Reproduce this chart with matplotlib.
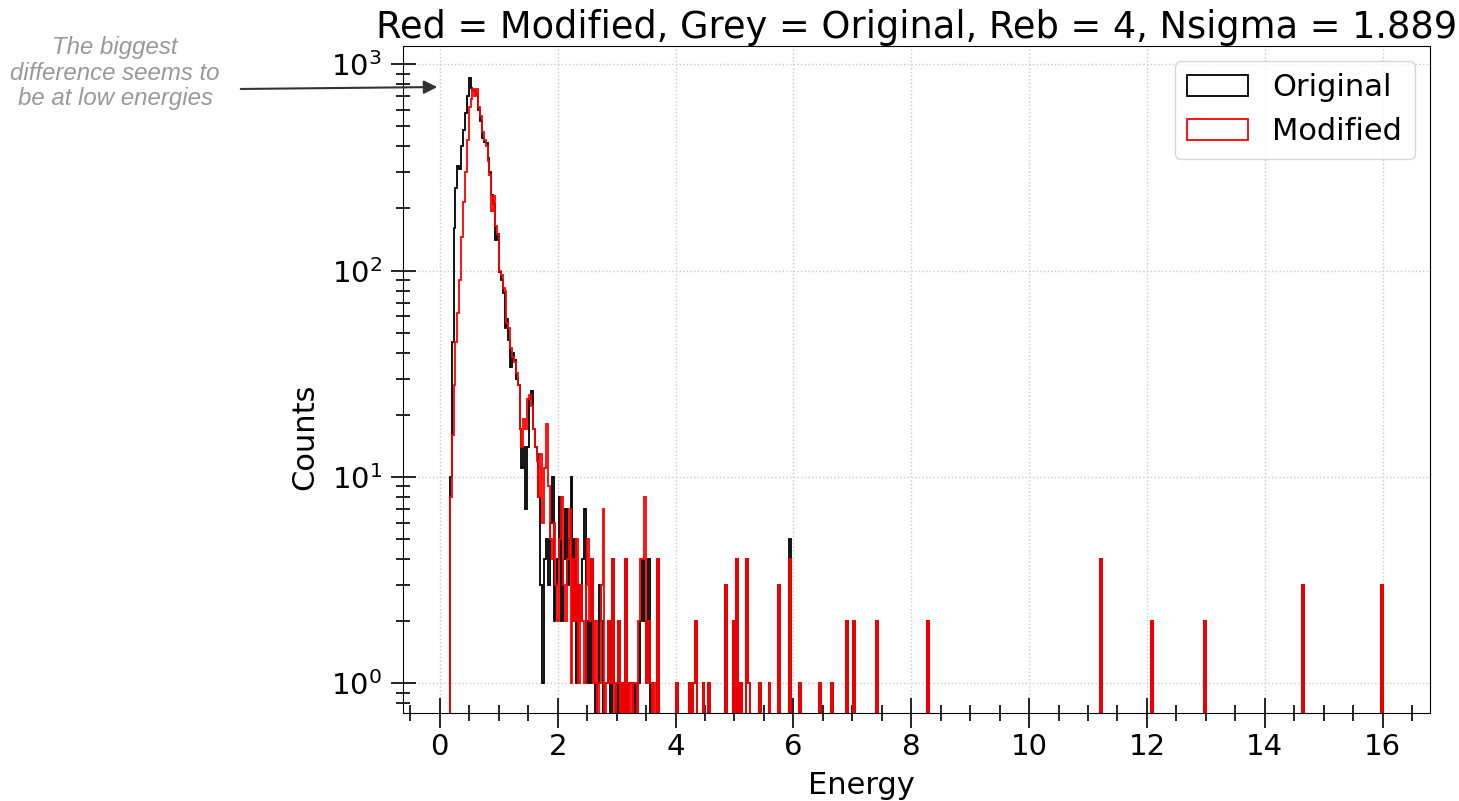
import numpy as np
import matplotlib.pyplot as plt
from matplotlib.ticker import MultipleLocator, LogLocator

# binning (rebinned histogram, Reb = 4)
bin_start = 0.17
bin_width = 0.032
n_bins = 495

# dense part of the spectrum, counts per bin starting at bin_start
original_dense = [10, 45, 160, 250, 320, 310, 400, 480, 580, 700,
                  860, 770, 750, 740, 720, 600, 530, 440, 420, 415,
                  350, 300, 232, 210, 140, 150, 98, 90, 78, 53,
                  58, 46, 34, 40, 37, 30, 28, 17, 11, 14,
                  7, 14, 24, 26, 17, 14, 13, 8, 3, 1,
                  4, 5, 3, 6, 10, 2, 3, 4, 8, 2,
                  4, 7, 3, 5, 10, 2, 5, 1, 3, 2,
                  4, 7, 1, 2, 1, 4, 1, 0, 1, 3,
                  2, 0, 1, 1, 2, 0, 4, 1, 0, 2,
                  0, 1, 0, 4, 0, 1, 1, 0, 1, 0,
                  1, 2, 4, 2, 1, 4, 0, 1, 0, 0,
                  4, 0]
modified_dense = [8, 16, 28, 45, 62, 90, 145, 215, 300, 430,
                  620, 680, 760, 700, 760, 620, 560, 470, 430, 400,
                  340, 290, 195, 230, 165, 150, 100, 95, 82, 80,
                  56, 53, 42, 38, 36, 32, 28, 17, 14, 19,
                  17, 24, 25, 22, 17, 14, 12, 8, 13, 6,
                  11, 18, 9, 5, 4, 6, 3, 2, 5, 8,
                  3, 2, 4, 7, 1, 4, 2, 5, 1, 3,
                  2, 1, 3, 5, 2, 4, 1, 2, 0, 1,
                  3, 7, 0, 1, 2, 1, 4, 0, 1, 2,
                  0, 1, 0, 4, 0, 1, 0, 1, 1, 0,
                  2, 4, 4, 8, 1, 2, 1, 0, 1, 0,
                  4, 0]

# sparse high energy tail
tail_energy = [4.02, 4.24, 4.32, 4.36, 4.47, 4.58, 4.87, 4.97, 5.06, 5.12,
               5.20, 5.24, 5.43, 5.60, 5.77, 5.94, 6.10, 6.46, 6.65, 6.90,
               7.04, 7.41, 8.28, 11.21, 12.10, 13.00, 14.65, 16.00]
tail_original = [1, 1, 1, 2, 1, 1, 3, 2, 4, 1,
                 4, 1, 1, 1, 3, 5, 1, 1, 1, 2,
                 2, 2, 2, 4, 2, 2, 3, 3]
tail_modified = [1, 1, 1, 2, 1, 1, 3, 2, 4, 1,
                 4, 1, 1, 1, 3, 4, 1, 1, 1, 2,
                 2, 2, 2, 4, 2, 2, 3, 3]

edges = bin_start + bin_width * np.arange(n_bins + 1)


def spectrum(dense, tail):
    centers = edges[:len(dense)] + bin_width / 2
    x = np.concatenate([centers, tail_energy])
    w = np.concatenate([dense, tail])
    return x, w


fig = plt.figure(figsize=(14.59, 8.01), dpi=100)
ax = fig.add_axes([0.276, 0.110, 0.704, 0.833])

x, w = spectrum(original_dense, tail_original)
ax.hist(x, bins=edges, weights=w, histtype="step", color="black", lw=1.3, label="Original")
x, w = spectrum(modified_dense, tail_modified)
ax.hist(x, bins=edges, weights=w, histtype="step", color="red", lw=1.3, label="Modified")

ax.set_yscale("log")
ax.set_xlim(-0.63, 16.8)
ax.set_ylim(0.72, 1230)

ax.xaxis.set_major_locator(MultipleLocator(2))
ax.xaxis.set_minor_locator(MultipleLocator(0.5))
ax.yaxis.set_minor_locator(LogLocator(subs=np.arange(2, 10)))
ax.tick_params(axis="x", which="major", direction="inout", length=21, width=1.2, labelsize=21, pad=4)
ax.tick_params(axis="x", which="minor", direction="inout", length=11, width=1.2)
ax.tick_params(axis="y", which="major", direction="inout", length=18, width=1.2, labelsize=21, pad=6)
ax.tick_params(axis="y", which="minor", direction="inout", length=9.5, width=1.2)

ax.grid(True, which="major", linestyle=":", color="#c8c8c8", lw=1)
ax.set_xlabel("Energy", fontsize=22)
ax.set_ylabel("Counts", fontsize=22)
ax.xaxis.set_label_coords(0.447, -0.087)
ax.yaxis.set_label_coords(-0.081, 0.414)
ax.set_title("Red = Modified, Grey = Original, Reb = 4, Nsigma = 1.889", fontsize=26.5, pad=5)
ax.legend(loc="upper right", fontsize=22)

# note on the left
fig.text(115, 801 - 73, "The biggest\ndifference seems to\nbe at low energies",
         transform=None, ha="center", va="center", fontsize=17.3, style="italic",
         color="#999999", family="Liberation Sans", linespacing=1.15)
ax.annotate("", xy=(440, 801 - 87), xycoords="figure pixels",
            xytext=(238, 801 - 89), textcoords="figure pixels",
            arrowprops=dict(arrowstyle="-|>", color="#333333", lw=1.5, mutation_scale=20),
            annotation_clip=False)

plt.savefig("out.png", dpi=100)
